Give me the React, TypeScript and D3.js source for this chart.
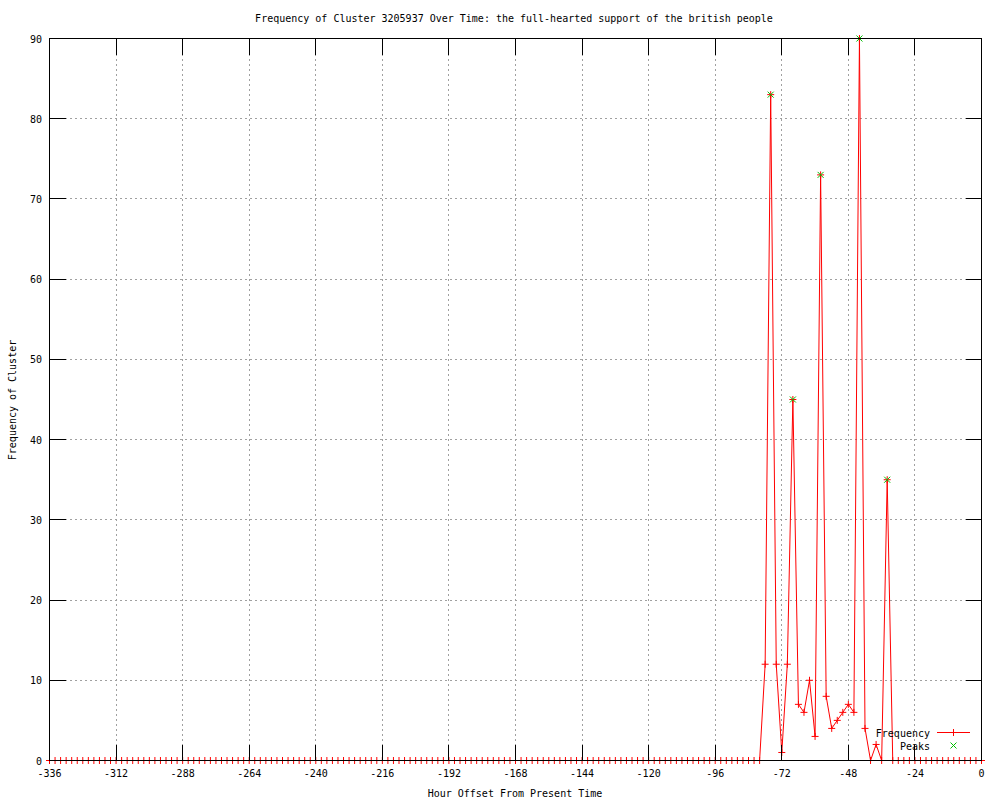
import React from "react";
import { scaleLinear, line } from "d3";

// frequency every 2 hours, from -336 to 0
const values = [
  0, 0, 0, 0, 0, 0, 0, 0, 0, 0, 0, 0, 0, 0, 0, 0,
  0, 0, 0, 0, 0, 0, 0, 0, 0, 0, 0, 0, 0, 0, 0, 0,
  0, 0, 0, 0, 0, 0, 0, 0, 0, 0, 0, 0, 0, 0, 0, 0,
  0, 0, 0, 0, 0, 0, 0, 0, 0, 0, 0, 0, 0, 0, 0, 0,
  0, 0, 0, 0, 0, 0, 0, 0, 0, 0, 0, 0, 0, 0, 0, 0,
  0, 0, 0, 0, 0, 0, 0, 0, 0, 0, 0, 0, 0, 0, 0, 0,
  0, 0, 0, 0, 0, 0, 0, 0, 0, 0, 0, 0, 0, 0, 0, 0,
  0, 0, 0, 0, 0, 0, 0, 0, 0, 0, 0, 0, 0, 0, 0, 0,
  0,
  // -78 .. -32
  12, 83, 12, 1, 12, 45, 7, 6, 10, 3, 73, 8, 4, 5, 6, 7, 6, 90, 4, 0, 2, 0, 35, 0,
  // -30 .. 0
  0, 0, 0, 0, 0, 0, 0, 0, 0, 0, 0, 0, 0, 0, 0, 0,
];
const startHour = -336;
const hours = values.map((_, i) => startHour + 2 * i);

const peakHours = [-76, -68, -58, -44, -34];
const peakValues = [83, 45, 73, 90, 35];

const xTicks = [-336, -312, -288, -264, -240, -216, -192, -168, -144, -120, -96, -72, -48, -24, 0];
const yTicks = [0, 10, 20, 30, 40, 50, 60, 70, 80, 90];

const title =
  "Frequency of Cluster 3205937 Over Time: the full-hearted support of the british people";

const font = "'DejaVu Sans Mono', monospace";

const Plus = ({ x, y, color }: { x: number; y: number; color: string }) => (
  <path d={`M${x - 3.5},${y}H${x + 3.5}M${x},${y - 3.5}V${y + 3.5}`} stroke={color} strokeWidth={1} />
);
const Cross = ({ x, y, color }: { x: number; y: number; color: string }) => (
  <path
    d={`M${x - 3},${y - 3}L${x + 3},${y + 3}M${x - 3},${y + 3}L${x + 3},${y - 3}`}
    stroke={color}
    strokeWidth={1}
  />
);

export default function App() {
  const width = 1000;
  const height = 800;
  const left = 49.5;
  const right = 981.5;
  const top = 38.5;
  const bottom = 760.5;
  const tick = 16;

  const x = scaleLinear().domain([-336, 0]).range([left, right]);
  const y = scaleLinear().domain([0, 90]).range([bottom, top]);

  const pts = hours.map((h, i) => [x(h), y(values[i])] as [number, number]);
  const path = line()(pts) || "";

  return (
    <svg
      width={width}
      height={height}
      style={{ position: "absolute", left: 0, top: 0, background: "#fff" }}
      fontFamily={font}
      fontSize={10}
    >
      {/* grid */}
      <g stroke="#a0a0a0" strokeDasharray="2,3" shapeRendering="crispEdges">
        {xTicks.slice(1, -1).map((t) => (
          <line key={"gx" + t} x1={x(t)} x2={x(t)} y1={top} y2={bottom} />
        ))}
        {yTicks.slice(1, -1).map((t) => (
          <line key={"gy" + t} x1={left} x2={right} y1={y(t)} y2={y(t)} />
        ))}
      </g>

      {/* frequency */}
      <path d={path} fill="none" stroke="#ff0000" strokeWidth={1} />
      {pts.map(([px, py], i) => (
        <Plus key={"p" + i} x={px} y={py} color="#ff0000" />
      ))}

      {/* peaks */}
      {peakHours.map((h, i) => (
        <Cross key={"k" + i} x={x(h)} y={y(peakValues[i])} color="#00c000" />
      ))}

      {/* border and ticks */}
      <g stroke="#000" strokeWidth={1} shapeRendering="crispEdges">
        <rect x={left} y={top} width={right - left} height={bottom - top} fill="none" />
        {xTicks.map((t) => (
          <g key={"tx" + t}>
            <line x1={x(t)} x2={x(t)} y1={bottom} y2={bottom - tick} />
            <line x1={x(t)} x2={x(t)} y1={top} y2={top + tick} />
          </g>
        ))}
        {yTicks.map((t) => (
          <g key={"ty" + t}>
            <line x1={left} x2={left + tick} y1={y(t)} y2={y(t)} />
            <line x1={right} x2={right - tick} y1={y(t)} y2={y(t)} />
          </g>
        ))}
      </g>

      {/* tick labels */}
      {xTicks.map((t) => (
        <text key={"lx" + t} x={x(t)} y={bottom + 16} textAnchor="middle">
          {t}
        </text>
      ))}
      {yTicks.map((t) => (
        <text key={"ly" + t} x={42} y={y(t) + 4} textAnchor="end">
          {t}
        </text>
      ))}

      {/* titles */}
      <text x={514} y={22} textAnchor="middle">
        {title}
      </text>
      <text x={515} y={797} textAnchor="middle">
        Hour Offset From Present Time
      </text>
      <text transform="translate(16,400) rotate(-90)" textAnchor="middle">
        Frequency of Cluster
      </text>

      {/* legend */}
      <text x={930} y={736.5} textAnchor="end">
        Frequency
      </text>
      <line x1={937} x2={970} y1={732.5} y2={732.5} stroke="#ff0000" />
      <Plus x={953.5} y={732.5} color="#ff0000" />
      <text x={930} y={749.5} textAnchor="end">
        Peaks
      </text>
      <Cross x={953.5} y={745.5} color="#00c000" />
    </svg>
  );
}
